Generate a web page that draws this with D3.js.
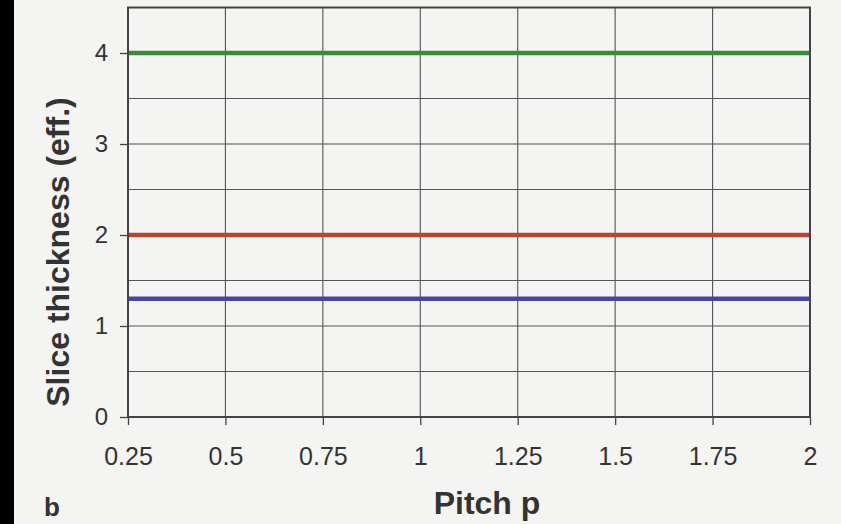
<!DOCTYPE html>
<html><head><meta charset="utf-8">
<script src="https://cdn.jsdelivr.net/npm/d3@7"></script>
<style>html,body{margin:0;padding:0;background:#f4f4f2;}svg{display:block;}</style>
</head><body><svg id="c" width="841" height="524"></svg>
<script>
const pitches = [0.25, 0.5, 0.75, 1, 1.25, 1.5, 1.75, 2];
const xTickLabels = ["0.25","0.5","0.75","1","1.25","1.5","1.75","2"];
const yTicks = [0, 1, 2, 3, 4];
const greenSeries = [4.0, 4.0, 4.0, 4.0, 4.0, 4.0, 4.0, 4.0];
const redSeries = [2.0, 2.0, 2.0, 2.0, 2.0, 2.0, 2.0, 2.0];
const blueSeries = [1.3, 1.3, 1.3, 1.3, 1.3, 1.3, 1.3, 1.3];
const seriesList = [
  {name:"green", values: greenSeries, color:"#3d8a36"},
  {name:"red", values: redSeries, color:"#b8452f"},
  {name:"blue", values: blueSeries, color:"#4646a6"}
];

const svg = d3.select("#c");
svg.append("rect").attr("width",841).attr("height",524).attr("fill","#f4f4f2");
svg.append("rect").attr("x",0).attr("y",0).attr("width",14).attr("height",524).attr("fill","#000");

const L=128, R=810, T=7.5, B=417;
const x = d3.scaleLinear().domain([0.25,2]).range([L,R]);
const y = d3.scaleLinear().domain([0,4.5]).range([B,T]);

const g = svg.append("g");
g.selectAll(".vg").data(pitches).enter().append("line")
  .attr("x1",d=>x(d)).attr("x2",d=>x(d)).attr("y1",T).attr("y2",B)
  .attr("stroke","#555").attr("stroke-width",1.1);
g.selectAll(".hg").data(d3.range(0,4.51,0.5)).enter().append("line")
  .attr("x1",L).attr("x2",R).attr("y1",d=>y(d)).attr("y2",d=>y(d))
  .attr("stroke","#555").attr("stroke-width",1.1);

const xAxis = d3.axisBottom(x).tickValues(pitches).tickFormat((d,i)=>xTickLabels[i]).tickSize(8).tickPadding(22);
const yAxis = d3.axisLeft(y).tickValues(yTicks).tickFormat(d3.format("d")).tickSize(8).tickPadding(12);
const xa = svg.append("g").attr("transform",`translate(0,${B})`).call(xAxis);
const ya = svg.append("g").attr("transform",`translate(${L},0)`).call(yAxis);
[xa,ya].forEach(a=>{
  a.select(".domain").remove();
  a.selectAll(".tick line").attr("stroke","#444").attr("stroke-width",1.3);
  a.selectAll("text").attr("fill","#333").attr("font-family","Liberation Sans, Arial, sans-serif");
});
xa.selectAll("text").attr("font-size",25);
ya.selectAll("text").attr("font-size",24).attr("dy","0.32em");

const line = d3.line().x((d,i)=>x(pitches[i])).y(d=>y(d));
seriesList.forEach(s=>{
  svg.append("path").datum(s.values).attr("d",line)
    .attr("fill","none").attr("stroke",s.color).attr("stroke-width",4.5);
});

svg.append("rect").attr("x",L).attr("y",T).attr("width",R-L).attr("height",B-T)
  .attr("fill","none").attr("stroke","#444").attr("stroke-width",2);

svg.append("text").attr("x",487).attr("y",514).attr("text-anchor","middle")
  .attr("font-family","Liberation Sans, Arial, sans-serif").attr("font-weight","bold")
  .attr("font-size",32).attr("fill","#333").text("Pitch p");
svg.append("text").attr("transform","translate(69,252) rotate(-90)").attr("text-anchor","middle")
  .attr("font-family","Liberation Sans, Arial, sans-serif").attr("font-weight","bold")
  .attr("font-size",32).attr("fill","#333").text("Slice thickness (eff.)");
svg.append("text").attr("x",44).attr("y",516)
  .attr("font-family","Liberation Sans, Arial, sans-serif").attr("font-weight","bold")
  .attr("font-size",26).attr("fill","#333").text("b");
</script></body></html>
